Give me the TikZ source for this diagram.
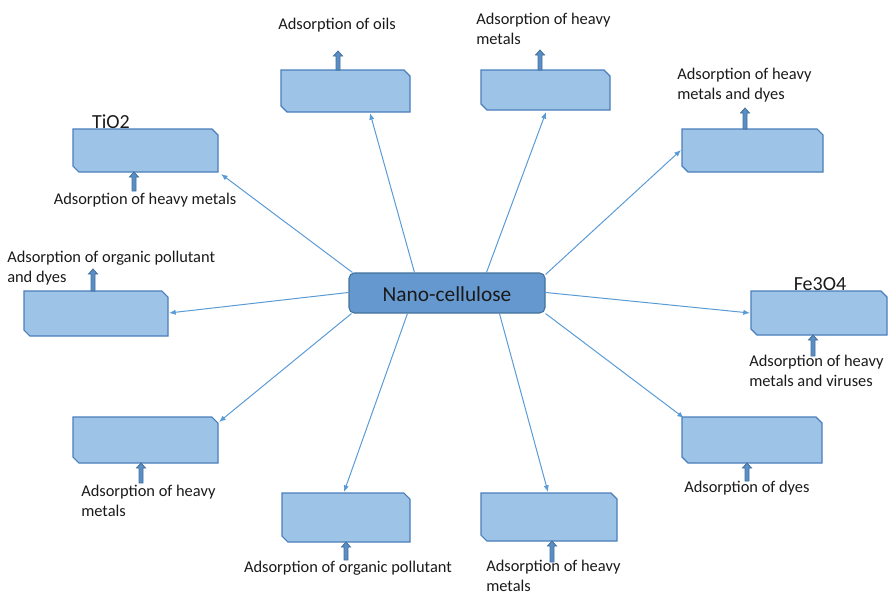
\documentclass[tikz,border=0pt]{standalone}
\usepackage{fontspec}
\setmainfont{Carlito}
\usetikzlibrary{arrows.meta,calc,fit}
\definecolor{boxfill}{HTML}{9DC3E6}
\definecolor{boxline}{HTML}{4A7EBB}
\definecolor{cfill}{HTML}{6498CE}
\definecolor{cline}{HTML}{41719C}
\definecolor{linkc}{HTML}{5B9BD5}
\definecolor{barfill}{HTML}{5B8EC6}
\definecolor{txt}{HTML}{1A1A1A}
\tikzset{
  x=0.75pt, y=-0.75pt,
  frame/.style={inner sep=0pt, outer sep=0pt},
  boxst/.style={draw=boxline, fill=boxfill, line width=0.8pt, line join=miter},
  cnode/.style={draw=cline, fill=cfill, line width=0.8pt, rounded corners=4pt, inner sep=0pt},
  link/.style={draw=linkc, line width=0.75pt, -{Latex[length=5pt,width=4pt]}},
  barst/.style={draw=cline, fill=barfill, line width=0.6pt, line join=miter},
  lbl/.style={inner sep=0pt, text=txt, font=\fontsize{12.3}{15}\selectfont, align=left},
  big/.style={inner sep=0pt, text=txt, font=\fontsize{15}{18}\selectfont},
}
\newcommand\snipbox[1]{%
  \draw[boxst] (#1.north west) -- ($(#1.north east)+(-6,0)$) -- ($(#1.north east)+(0,6)$)
    -- (#1.south east) -- ($(#1.south west)+(6,0)$) -- ($(#1.south west)+(0,-6)$) -- cycle;}
% block up-arrow: #1 = base point, #2 = total length
\newcommand\blockup[2]{%
  \draw[barst] ($#1+(-2,0)$) -- ++(0,-#2+5) -- ++(-2.5,0) -- ++(4.5,-5) -- ++(4.5,5)
    -- ++(-2.5,0) -- ++(0,#2-5) -- cycle;}
\begin{document}
\begin{tikzpicture}
\useasboundingbox (0,0) rectangle (888,594);

% boxes
\node[frame, fit={(281,70) (410,112)}] (oils) {};
\node[frame, fit={(481,70) (610,110)}] (hmtop) {};
\node[frame, fit={(682,129) (823,172)}] (hmdyes) {};
\node[frame, fit={(73,129) (218,172)}] (tio) {};
\node[frame, fit={(24,291) (168,336)}] (orgdyes) {};
\node[frame, fit={(751,291) (887,335)}] (fe) {};
\node[frame, fit={(73,417) (218,463)}] (hmlow) {};
\node[frame, fit={(282,493) (410,542)}] (org) {};
\node[frame, fit={(481,493) (617,541)}] (hmbot) {};
\node[frame, fit={(682,417) (822,463)}] (dyes) {};
\foreach \b in {oils,hmtop,hmdyes,tio,orgdyes,fe,hmlow,org,hmbot,dyes} {\snipbox{\b}}

% centre
\node[cnode, fit={(349,273) (545,313)}] (c) {};
\node[inner sep=0pt, text=txt, font=\fontsize{16}{19}\selectfont] (ct) at ($(c.center)+(0,1)$) {Nano-cellulose};

% connectors
\draw[link] ($(c.north west)+(66,0)$) -- ($(oils.south west)+(89,1)$);
\draw[link] ($(c.north west)+(138,0)$) -- ($(hmtop.south west)+(65,2)$);
\draw[link] ($(c.north east)+(0,2)$) -- ($(hmdyes.north west)+(-1,21)$);
\draw[link] ($(c.north west)+(4,0)$) -- ($(tio.south east)+(3,2)$);
\draw[link] ($(c.north west)+(0,20)$) -- ($(orgdyes.north east)+(1,22)$);
\draw[link] ($(c.north east)+(0,20)$) -- ($(fe.north west)+(-1,22)$);
\draw[link] ($(c.south west)+(3,0)$) -- ($(hmlow.north east)+(1,5)$);
\draw[link] ($(c.south west)+(59,0)$) -- ($(org.north west)+(62,-1)$);
\draw[link] ($(c.south west)+(151,0)$) -- ($(hmbot.north west)+(67,-1)$);
\draw[link] ($(c.south east)+(0,0)$) -- ($(dyes.north west)+(2,1)$);

% small block arrows
\blockup{($(oils.north west)+(57,0)$)}{19}
\blockup{($(hmtop.north west)+(59,0)$)}{20}
\blockup{($(hmdyes.north west)+(63,0)$)}{21}
\blockup{($(tio.south west)+(61,19)$)}{19}
\blockup{($(orgdyes.north west)+(69,0)$)}{22}
\blockup{($(fe.south west)+(62,21)$)}{21}
\blockup{($(hmlow.south west)+(68,20)$)}{20}
\blockup{($(org.south west)+(64,18)$)}{18}
\blockup{($(hmbot.south west)+(71,21)$)}{21}
\blockup{($(dyes.south west)+(65,18)$)}{18}

% labels
\node[lbl] (l1) at (337,25) {Adsorption of oils};
\node[lbl, anchor=north west] (l2) at (476,13) {Adsorption of heavy\\metals};
\node[lbl, anchor=north west] (l3) at (677,68) {Adsorption of heavy\\metals and dyes};
\node[lbl] (l4) at (145,200) {Adsorption of heavy metals};
\node[lbl, anchor=north west] (l5) at (7,251) {Adsorption of organic pollutant\\and dyes};
\node[lbl, anchor=north west] (l6) at (749,355) {Adsorption of heavy\\metals and viruses};
\node[lbl, anchor=north west] (l7) at (81,485) {Adsorption of heavy\\metals};
\node[lbl] (l8) at (348,568) {Adsorption of organic pollutant};
\node[lbl, anchor=north west] (l9) at (486,560) {Adsorption of heavy\\metals};
\node[lbl, anchor=west] (l10) at (684,488) {Adsorption of dyes};
\node[big] (tio2) at (111,122) {TiO2};
\node[big] (fe3o4) at (820,284) {Fe3O4};
\end{tikzpicture}
\end{document}
